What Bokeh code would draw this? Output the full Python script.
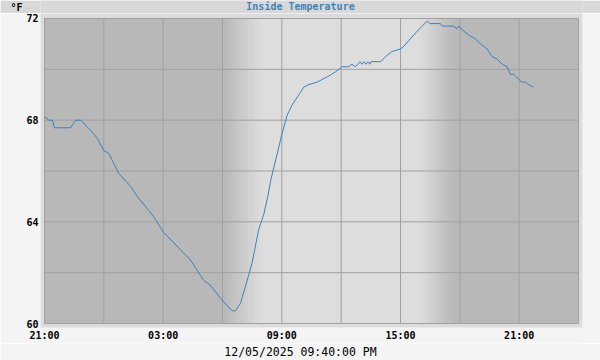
import numpy as np
from bokeh.plotting import figure
from bokeh.layouts import column
from bokeh.models import FixedTicker, Label, ColumnDataSource
from bokeh.embed import file_html
from bokeh.resources import INLINE

# ---- data (hours after 21:00 on 12/04/2025, inside temperature in °F) ----
hours = [0.00, 0.10, 0.20, 0.40, 0.50, 1.32, 1.58, 1.85, 2.07, 2.33, 2.66, 3.00,
         3.25, 3.50, 3.76, 4.35, 4.69, 5.11, 5.53, 6.00, 6.88, 7.38, 7.63, 8.04,
         8.39, 8.90, 9.24, 9.49, 9.66, 9.91, 10.25, 10.50, 10.83, 11.09, 11.29,
         11.43, 12.02, 12.27, 12.52, 12.86, 13.11, 13.36, 13.79, 14.29, 14.71,
         15.05, 15.38, 15.55, 15.70, 15.85, 15.95, 16.05, 16.15, 16.25, 16.35,
         16.45, 16.50, 17.00, 17.24, 17.58, 18.00, 18.16, 18.50, 18.84, 19.10,
         19.35, 19.50, 20.02, 20.11, 20.69, 20.85, 20.95, 21.20, 21.54, 21.79,
         22.04, 22.38, 22.63, 22.89, 23.14, 23.39, 23.56, 23.73, 23.98, 24.15,
         24.32, 24.48, 24.71]
temps = [68.1, 68.1, 68.0, 68.0, 67.7, 67.7, 68.0, 68.0, 67.8, 67.6, 67.3, 66.8,
         66.7, 66.3, 65.9, 65.4, 65.0, 64.6, 64.2, 63.6, 62.9, 62.5, 62.2, 61.7,
         61.5, 61.0, 60.7, 60.5, 60.5, 60.8, 61.7, 62.4, 63.7, 64.3, 65.0,
         65.6, 67.5, 68.2, 68.6, 69.0, 69.3, 69.4, 69.5, 69.7, 69.9,
         70.1, 70.1, 70.2, 70.1, 70.2, 70.3, 70.2, 70.3, 70.2, 70.3,
         70.2, 70.3, 70.3, 70.5, 70.7, 70.8, 70.9, 71.2, 71.5, 71.7,
         71.9, 71.8, 71.8, 71.7, 71.7, 71.6, 71.7, 71.5, 71.3, 71.2,
         71.0, 70.8, 70.5, 70.4, 70.2, 70.1, 69.8, 69.8, 69.6, 69.5,
         69.5, 69.4, 69.3]

x_ticks = [0, 6, 12, 18, 24]
x_tick_labels = ["21:00", "03:00", "09:00", "15:00", "21:00"]
y_ticks = [60, 64, 68, 72]
x_grid = [0, 3, 6, 9, 12, 15, 18, 21, 24, 27]
y_grid = [60, 62, 64, 66, 68, 70, 72]
x_span = (0, 27)
y_span = (60, 72)
# twilight bands (hours after 21:00)
dawn = (9.0, 11.0)
dusk = (19.0, 20.8)

title_text = "Inside Temperature"
unit_text = "°F"
stamp_text = "12/05/2025 09:40:00 PM"

# ---- style ----
NIGHT = np.array([184, 184, 184])
DAY = np.array([221, 221, 221])
MONO = "DejaVu Sans Mono"
PAGE = "#f4f4f4"
BAR = "#d8d8d8"
FRAME = "#dcdcdc"
GRID = "#a0a0a0"
W = 600
HEAD_H, FOOT_H = 13, 17
PLOT_L, PLOT_R, PLOT_T, PLOT_B = 44, 578, 18, 324      # plot area (canvas px)
FR_L, FR_R, FR_T, FR_B = 40, 582, 13, 328              # light frame (canvas px)
UNIT_RIGHT = 22                                          # right edge of unit text


def hexc(c):
    c = np.clip(np.round(c), 0, 255).astype(int)
    return "#%02x%02x%02x" % tuple(c)


def plain_axis(ax, size="10px", bold=True):
    ax.axis_line_color = None
    ax.major_tick_line_color = None
    ax.minor_tick_line_color = None
    ax.major_tick_out = 0
    ax.major_tick_in = 0
    ax.minor_tick_out = 0
    ax.minor_tick_in = 0
    ax.major_label_text_font = MONO
    ax.major_label_text_font_style = "bold" if bold else "normal"
    ax.major_label_text_font_size = size
    ax.major_label_text_color = "#000000"


# extend ranges so the light frame surrounds the plotted area
xpp = (x_span[1] - x_span[0]) / (PLOT_R - PLOT_L)
ypp = (y_span[1] - y_span[0]) / (PLOT_B - PLOT_T)
x_range = (x_span[0] - (PLOT_L - FR_L) * xpp, x_span[1] + (FR_R - PLOT_R) * xpp)
y_range = (y_span[0] - (FR_B - PLOT_B) * ypp, y_span[1] + (PLOT_T - FR_T) * ypp)


def strip(height, fill, yaxis=None):
    # frames of all figures in the column are aligned to FR_L..FR_R,
    # so a range of (FR_L, FR_R) maps data x straight to canvas pixels
    f = figure(width=W, height=height, x_range=(FR_L, FR_R), y_range=(0, height),
               output_backend="svg", toolbar_location=None,
               min_border_left=FR_L, min_border_right=W - FR_R,
               min_border_top=0, min_border_bottom=0,
               x_axis_location=None, y_axis_location=yaxis,
               background_fill_color=fill, border_fill_color=fill,
               outline_line_color=None)
    f.grid.visible = False
    return f


# ---------------- header ----------------
head = strip(HEAD_H, BAR, yaxis="left")
plain_axis(head.yaxis[0])
head.yaxis.ticker = FixedTicker(ticks=[HEAD_H / 2])
head.yaxis.major_label_overrides = {HEAD_H / 2: unit_text}
head.yaxis.major_label_standoff = FR_L - UNIT_RIGHT
head.add_layout(Label(x=W / 2, y=HEAD_H / 2 + 0.5, text=title_text,
                      text_font=MONO, text_font_size="10px",
                      text_font_style="bold", text_color="#4682b4",
                      text_align="center", text_baseline="middle"))

# ---------------- main plot ----------------
main_h = 360 - HEAD_H - FOOT_H
p = figure(width=W, height=main_h, x_range=x_range, y_range=y_range,
           output_backend="svg", toolbar_location=None,
           min_border_left=FR_L, min_border_right=W - FR_R,
           min_border_top=FR_T - HEAD_H, min_border_bottom=main_h - (FR_B - HEAD_H),
           border_fill_color=PAGE, background_fill_color=FRAME,
           outline_line_color=None)
p.grid.visible = False

# background bands
L, R, C = [], [], []
def add(x0, x1, c0, c1, n=1):
    xs = np.linspace(x0, x1, n + 1)
    for i in range(n):
        f = (i + 0.5) / n
        L.append(xs[i]); R.append(xs[i + 1]); C.append(hexc(c0 + (c1 - c0) * f))

add(x_span[0], dawn[0], NIGHT, NIGHT)
add(dawn[0], dawn[1], NIGHT, DAY, 60)
add(dawn[1], dusk[0], DAY, DAY)
add(dusk[0], dusk[1], DAY, NIGHT, 60)
add(dusk[1], x_span[1], NIGHT, NIGHT)

bg = ColumnDataSource(dict(left=L, right=R, color=C))
p.quad(left="left", right="right", bottom=y_span[0], top=y_span[1], source=bg,
       fill_color="color", line_color="color", line_width=0.6, level="image")

# grid lines limited to the plot area
p.segment(x0=x_grid, x1=x_grid, y0=[y_span[0]] * len(x_grid),
          y1=[y_span[1]] * len(x_grid), line_color=GRID, line_width=1,
          level="underlay")
p.segment(x0=[x_span[0]] * len(y_grid), x1=[x_span[1]] * len(y_grid),
          y0=y_grid, y1=y_grid, line_color=GRID, line_width=1, level="underlay")

p.line(hours, temps, line_color="#3a80c0", line_width=1)

# axes
plain_axis(p.xaxis[0])
plain_axis(p.yaxis[0])
p.xaxis.ticker = FixedTicker(ticks=x_ticks)
p.xaxis.major_label_overrides = {t: s for t, s in zip(x_ticks, x_tick_labels)}
p.xaxis.major_label_standoff = 2
p.yaxis.ticker = FixedTicker(ticks=y_ticks)
p.yaxis.major_label_standoff = 2

# ---------------- footer ----------------
foot = strip(FOOT_H, PAGE)
foot.add_layout(Label(x=W / 2, y=FOOT_H / 2, text=stamp_text,
                      text_font=MONO, text_font_size="11.5px",
                      text_color="#000000",
                      text_align="center", text_baseline="middle"))

layout = column(head, p, foot, spacing=0)
open("out.html", "w").write(file_html(layout, INLINE))
